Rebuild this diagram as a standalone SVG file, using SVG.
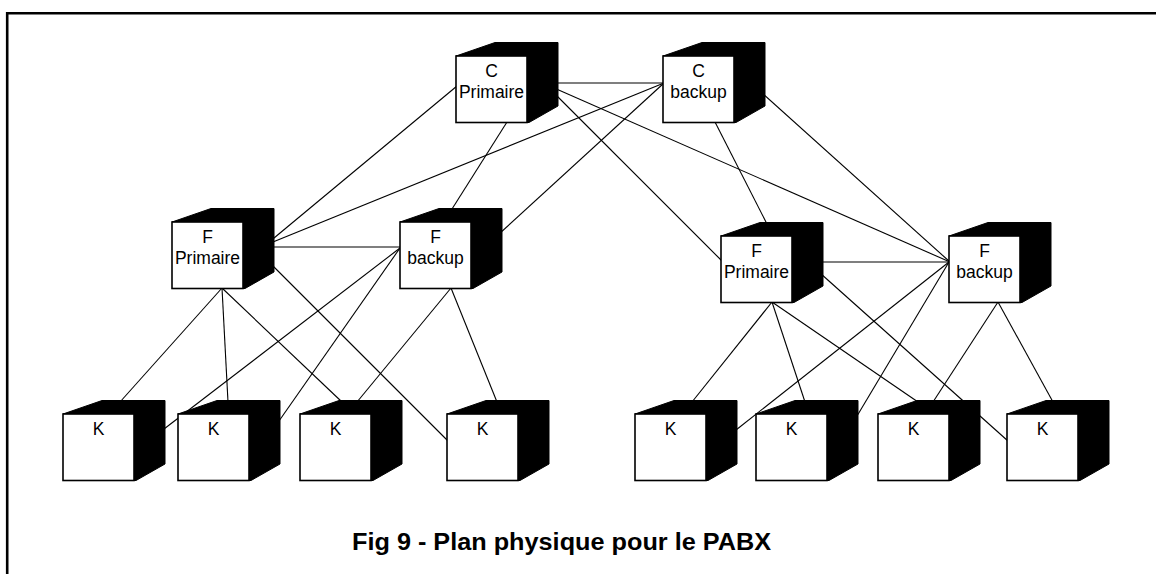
<svg xmlns="http://www.w3.org/2000/svg" xmlns:xlink="http://www.w3.org/1999/xlink" width="1156" height="574" viewBox="0 0 1156 574">
  <style>
    .frame { fill: none; stroke: #000; stroke-width: 2.6; }
    .link { stroke: #000; stroke-width: 1.1; fill: none; }
    .shade { fill: #000; stroke: #000; stroke-width: 1; stroke-linejoin: round; }
    .face { fill: #fff; stroke: #000; stroke-width: 1.6; }
    .lbl { font-family: "Liberation Sans", Arial, sans-serif; font-size: 17.5px; fill: #000; text-anchor: middle; }
    .title { font-family: "Liberation Sans", Arial, sans-serif; font-size: 24px; font-weight: bold; fill: #000; text-anchor: middle; }
  </style>
  <defs>
    <!-- box drawn from the top-left corner of its front face -->
    <g id="cube">
      <polygon class="shade" points="0,0 39,-13.5 102,-13.5 102,50 73,66.5 71,66.5 71,0"/>
      <rect class="face" x="0" y="0" width="71" height="66.5"/>
    </g>
  </defs>

  <rect width="1156" height="574" fill="#fff"/>
  <path class="frame" d="M7.2,574 V13.3 H1156"/>

  <g id="connectors">
    <!-- core level -->
    <line class="link" x1="457" y1="86" x2="268" y2="243"/>
    <line class="link" x1="545" y1="83" x2="664" y2="83"/>
    <line class="link" x1="664" y1="83" x2="268" y2="244"/>
    <line class="link" x1="507" y1="122" x2="452" y2="209"/>
    <line class="link" x1="664" y1="83" x2="499" y2="234"/>
    <line class="link" x1="545" y1="84" x2="722" y2="261"/>
    <line class="link" x1="545" y1="84" x2="950" y2="262"/>
    <line class="link" x1="715" y1="122" x2="767" y2="224"/>
    <line class="link" x1="762" y1="93" x2="950" y2="262"/>
    <!-- floor level -->
    <line class="link" x1="268" y1="247" x2="401" y2="247"/>
    <line class="link" x1="820" y1="262" x2="950" y2="262"/>
    <!-- left floor to K boxes -->
    <line class="link" x1="222" y1="288" x2="120" y2="402"/>
    <line class="link" x1="222" y1="288" x2="228" y2="402"/>
    <line class="link" x1="222" y1="288" x2="342" y2="402"/>
    <line class="link" x1="268" y1="261" x2="448" y2="441"/>
    <line class="link" x1="400" y1="248" x2="164" y2="429"/>
    <line class="link" x1="400" y1="248" x2="279" y2="421"/>
    <line class="link" x1="451" y1="288" x2="357" y2="402"/>
    <line class="link" x1="451" y1="288" x2="497" y2="402"/>
    <!-- right floor to K boxes -->
    <line class="link" x1="772" y1="302" x2="692" y2="402"/>
    <line class="link" x1="772" y1="302" x2="805" y2="402"/>
    <line class="link" x1="772" y1="302" x2="918" y2="402"/>
    <line class="link" x1="820" y1="273" x2="1008" y2="441"/>
    <line class="link" x1="949" y1="262" x2="736" y2="430"/>
    <line class="link" x1="949" y1="262" x2="857" y2="416"/>
    <line class="link" x1="998" y1="302" x2="933" y2="402"/>
    <line class="link" x1="998" y1="302" x2="1053" y2="402"/>
  </g>

  <g id="c-primaire" transform="translate(456,56)">
    <use xlink:href="#cube"/>
    <text class="lbl" x="35.5" y="21">C</text>
    <text class="lbl" x="35.5" y="42">Primaire</text>
  </g>
  <g id="c-backup" transform="translate(663,56)">
    <use xlink:href="#cube"/>
    <text class="lbl" x="35.5" y="21">C</text>
    <text class="lbl" x="35.5" y="42">backup</text>
  </g>

  <g id="f-primaire-1" transform="translate(172,222)">
    <use xlink:href="#cube"/>
    <text class="lbl" x="35.5" y="21">F</text>
    <text class="lbl" x="35.5" y="42">Primaire</text>
  </g>
  <g id="f-backup-1" transform="translate(400,222)">
    <use xlink:href="#cube"/>
    <text class="lbl" x="35.5" y="21">F</text>
    <text class="lbl" x="35.5" y="42">backup</text>
  </g>
  <g id="f-primaire-2" transform="translate(721,236)">
    <use xlink:href="#cube"/>
    <text class="lbl" x="35.5" y="21">F</text>
    <text class="lbl" x="35.5" y="42">Primaire</text>
  </g>
  <g id="f-backup-2" transform="translate(949,236)">
    <use xlink:href="#cube"/>
    <text class="lbl" x="35.5" y="21">F</text>
    <text class="lbl" x="35.5" y="42">backup</text>
  </g>

  <g id="k1" transform="translate(63,414)"><use xlink:href="#cube"/><text class="lbl" x="35.5" y="21">K</text></g>
  <g id="k2" transform="translate(178,414)"><use xlink:href="#cube"/><text class="lbl" x="35.5" y="21">K</text></g>
  <g id="k3" transform="translate(300,414)"><use xlink:href="#cube"/><text class="lbl" x="35.5" y="21">K</text></g>
  <g id="k4" transform="translate(447,414)"><use xlink:href="#cube"/><text class="lbl" x="35.5" y="21">K</text></g>
  <g id="k5" transform="translate(635,414)"><use xlink:href="#cube"/><text class="lbl" x="35.5" y="21">K</text></g>
  <g id="k6" transform="translate(756,414)"><use xlink:href="#cube"/><text class="lbl" x="35.5" y="21">K</text></g>
  <g id="k7" transform="translate(878,414)"><use xlink:href="#cube"/><text class="lbl" x="35.5" y="21">K</text></g>
  <g id="k8" transform="translate(1007,414)"><use xlink:href="#cube"/><text class="lbl" x="35.5" y="21">K</text></g>

  <text class="title" x="561.5" y="549.5" textLength="419" lengthAdjust="spacingAndGlyphs">Fig 9 - Plan physique pour le PABX</text>
</svg>
